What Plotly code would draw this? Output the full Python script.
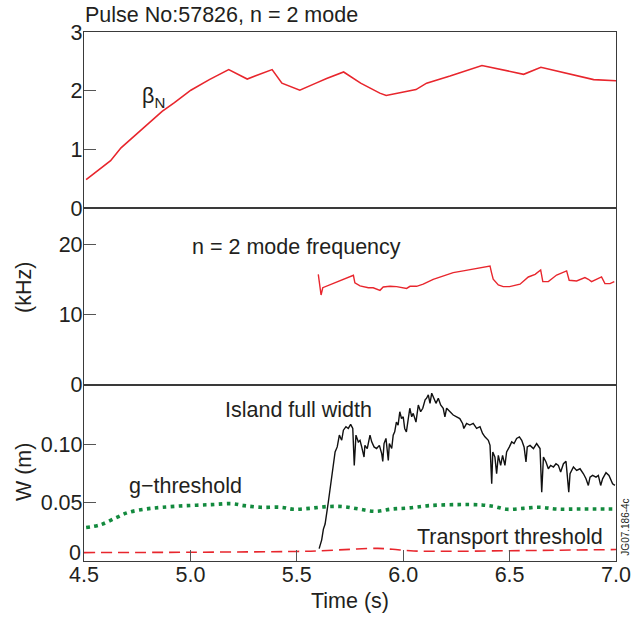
import plotly.graph_objects as go
from plotly.subplots import make_subplots

# ---- data ----
beta_t = [4.51, 4.625, 4.674, 4.76, 4.867, 4.925, 5.002, 5.089, 5.18, 5.267, 5.384, 5.43,
          5.514, 5.59, 5.64, 5.72, 5.80, 5.89, 5.92, 6.06, 6.11, 6.22, 6.37, 6.566, 6.647,
          6.895, 7.0]
beta_v = [0.49, 0.81, 1.03, 1.31, 1.65, 1.80, 2.01, 2.19, 2.36, 2.20, 2.36, 2.13,
          2.01, 2.13, 2.21, 2.32, 2.13, 1.96, 1.92, 2.02, 2.13, 2.25, 2.43, 2.28, 2.40,
          2.19, 2.17]

freq_t = [5.601, 5.614, 5.622, 5.656, 5.703, 5.766, 5.773, 5.797, 5.836, 5.859, 5.891,
          5.906, 5.938, 5.969, 6.016, 6.032, 6.063, 6.094, 6.141, 6.188, 6.235, 6.282,
          6.345, 6.408, 6.415, 6.423, 6.447, 6.47, 6.50, 6.549, 6.588, 6.62, 6.646, 6.656,
          6.682, 6.721, 6.768, 6.78, 6.815, 6.854, 6.87, 6.885, 6.932, 6.948, 6.972, 6.992]
freq_v = [15.7, 12.76, 13.8, 14.2, 14.76, 15.57, 14.5, 14.05, 13.8, 13.8, 13.43,
          13.9, 14.0, 13.95, 13.7, 14.0, 14.0, 14.3, 15.0, 15.47, 15.95, 16.2,
          16.57, 16.9, 15.95, 15.0, 14.2, 13.95, 13.95, 14.3, 15.33, 15.7, 16.33, 14.67,
          14.67, 15.6, 16.2, 14.86, 14.76, 15.24, 15.0, 14.67, 15.33, 14.38, 14.38, 14.67]

island_t = [5.605, 5.617, 5.625, 5.633, 5.648, 5.664, 5.680, 5.69, 5.70, 5.711, 5.719,
            5.731, 5.742, 5.753, 5.763, 5.77, 5.778, 5.789, 5.797, 5.805, 5.816, 5.82,
            5.831, 5.844, 5.852, 5.863, 5.875, 5.888, 5.899, 5.904, 5.91, 5.919, 5.93,
            5.935, 5.946, 5.953, 5.96, 5.968, 5.976, 5.984, 5.992, 6.0, 6.007, 6.015,
            6.023, 6.031, 6.04, 6.047, 6.06, 6.071, 6.082, 6.092, 6.103, 6.11, 6.118,
            6.126, 6.134, 6.145, 6.154, 6.165, 6.176, 6.188, 6.196, 6.204, 6.219, 6.235,
            6.251, 6.266, 6.279, 6.285, 6.298, 6.313, 6.329, 6.345, 6.361, 6.373, 6.384,
            6.4, 6.408, 6.416, 6.421, 6.431, 6.439, 6.447, 6.458, 6.467, 6.478, 6.486,
            6.499, 6.51, 6.521, 6.533, 6.546, 6.557, 6.568, 6.577, 6.583, 6.596, 6.612,
            6.627, 6.643, 6.651, 6.659, 6.671, 6.682, 6.693, 6.706, 6.718, 6.729, 6.74,
            6.753, 6.765, 6.771, 6.778, 6.784, 6.8, 6.815, 6.831, 6.847, 6.859, 6.87,
            6.878, 6.89, 6.906, 6.917, 6.928, 6.937, 6.953, 6.967, 6.976, 6.984, 6.995]
island_w = [0.0106, 0.0181, 0.0273, 0.0316, 0.0503, 0.0704, 0.0934, 0.0977, 0.1078, 0.1034, 0.112,
            0.115, 0.1135, 0.117, 0.1135, 0.0819, 0.1078, 0.102, 0.1034, 0.0977, 0.089, 0.099,
            0.0963, 0.1078, 0.102, 0.0977, 0.0963, 0.099, 0.092, 0.0853, 0.1006, 0.105, 0.0862,
            0.1006, 0.0963, 0.1078, 0.1106, 0.119, 0.1164, 0.1278, 0.122, 0.1235, 0.1135, 0.1106,
            0.1235, 0.1308, 0.1235, 0.1264, 0.119, 0.1336, 0.1278, 0.1308, 0.138, 0.1394, 0.1422,
            0.135, 0.1437, 0.1394, 0.135, 0.1394, 0.1336, 0.1308, 0.1235, 0.1308, 0.1278, 0.125,
            0.1235, 0.122, 0.1178, 0.1135, 0.1178, 0.1164, 0.1178, 0.1135, 0.115, 0.1092, 0.1063,
            0.1034, 0.099, 0.0661, 0.0934, 0.089, 0.0747, 0.0905, 0.0819, 0.0905, 0.0819, 0.0934,
            0.0977, 0.102, 0.1006, 0.105, 0.1063, 0.1034, 0.0977, 0.0848, 0.0977, 0.099, 0.0963,
            0.1006, 0.0963, 0.0589, 0.089, 0.0848, 0.079, 0.0819, 0.0805, 0.0833, 0.0819, 0.0762,
            0.0833, 0.0853, 0.0733, 0.0589, 0.0747, 0.0805, 0.0776, 0.079, 0.0747, 0.0704, 0.0647,
            0.0718, 0.0733, 0.0718, 0.0733, 0.0647, 0.0704, 0.0756, 0.0733, 0.069, 0.0661, 0.0647]

gthr_t = [4.51, 4.577, 4.654, 4.71, 4.79, 4.867, 4.98, 5.10, 5.195, 5.253, 5.33, 5.427,
          5.485, 5.56, 5.64, 5.716, 5.793, 5.87, 5.947, 6.025, 6.12, 6.257, 6.37, 6.43,
          6.488, 6.566, 6.643, 6.72, 6.836, 7.0]
gthr_w = [0.0287, 0.031, 0.0374, 0.0417, 0.0445, 0.046, 0.0474, 0.0483, 0.0491, 0.0474, 0.046, 0.046,
          0.0443, 0.0451, 0.0466, 0.0466, 0.0445, 0.0425, 0.0445, 0.0454, 0.0474, 0.0483, 0.048, 0.0466,
          0.0443, 0.0451, 0.046, 0.0445, 0.0445, 0.0445]

tthr_t = [4.5, 5.0, 5.5, 5.6, 5.75, 5.88, 5.95, 6.05, 6.2, 6.5, 7.0]
tthr_w = [0.0072, 0.0075, 0.0082, 0.0086, 0.0100, 0.0108, 0.0100, 0.0086, 0.0083, 0.0088, 0.0098]

x_ticks = [4.5, 5.0, 5.5, 6.0, 6.5, 7.0]
x_ticktext = ["4.5", "5.0", "5.5", "6.0", "6.5", "7.0"]
y1_ticks = [0, 1, 2, 3]
y2_ticks = [0, 10, 20]
y3_ticks = [0.05, 0.10]
y3_ticktext = ["0.05", "0.10"]
y3_zero_label = "0"

# ---- style ----
FONT = "Liberation Sans, Arial, sans-serif"
TXT = "#231f20"
RED = "#e8262d"
GREEN = "#138a3e"
AXC = "#3a3a3a"
FS = 21.5
TFS = 21.5

fig = make_subplots(rows=3, cols=1, shared_xaxes=True, vertical_spacing=0)

fig.add_trace(go.Scatter(x=beta_t, y=beta_v, mode="lines",
                         line=dict(color=RED, width=1.6)), row=1, col=1)
fig.add_trace(go.Scatter(x=freq_t, y=freq_v, mode="lines",
                         line=dict(color=RED, width=1.4)), row=2, col=1)
fig.add_trace(go.Scatter(x=tthr_t, y=tthr_w, mode="lines", line_shape="spline",
                         line=dict(color=RED, width=1.6, dash="11px,6px")), row=3, col=1)
fig.add_trace(go.Scatter(x=gthr_t, y=gthr_w, mode="lines", line_shape="spline",
                         line=dict(color=GREEN, width=3.6, dash="3.6px,4.4px")), row=3, col=1)
fig.add_trace(go.Scatter(x=island_t, y=island_w, mode="lines",
                         line=dict(color="#111111", width=1.4)), row=3, col=1)

common_x = dict(range=[4.5, 7.0], showline=True, mirror=True, linecolor=AXC, linewidth=1.3,
                showgrid=False, zeroline=False, automargin=False)
for r in (1, 2):
    fig.update_xaxes(common_x, showticklabels=False, ticks="", row=r, col=1)
fig.update_xaxes(common_x, tickvals=x_ticks, ticktext=x_ticktext, ticks="inside",
                 ticklen=11, tickwidth=1.2, tickcolor="#555", showticklabels=True,
                 ticklabelstandoff=-6,
                 tickfont=dict(size=TFS, color=TXT, family=FONT),
                 row=3, col=1)

common_y = dict(showline=True, mirror=True, linecolor=AXC, linewidth=1.3, showgrid=False,
                zeroline=False, ticks="inside", ticklen=12, tickwidth=1.2, tickcolor="#555",
                ticklabelstandoff=-4,
                tickfont=dict(size=TFS, color=TXT, family=FONT), automargin=False)
fig.update_yaxes(common_y, range=[0, 3], tickvals=y1_ticks, row=1, col=1)
fig.update_yaxes(common_y, range=[0, 25.1], tickvals=y2_ticks, row=2, col=1)
fig.update_yaxes(common_y, range=[0, 0.151], tickvals=y3_ticks, ticktext=y3_ticktext,
                 row=3, col=1)

ann_font = dict(size=FS, color=TXT, family=FONT)
# axis titles
fig.add_annotation(x=0.5, y=-0.076, xref="paper", yref="paper", xanchor="center", yanchor="middle",
                   text="Time (s)", showarrow=False, font=ann_font)
fig.add_annotation(x=-0.1128, y=0.518, xref="paper", yref="paper", xanchor="center",
                   yanchor="middle", textangle=-90, text="(kHz)", showarrow=False, font=ann_font)
fig.add_annotation(x=-0.1128, y=0.170, xref="paper", yref="paper", xanchor="center",
                   yanchor="middle", textangle=-90, text="W (m)", showarrow=False, font=ann_font)
# labels
fig.add_annotation(x=0, y=1.0, xref="paper", yref="paper", xanchor="left", yanchor="bottom",
                   xshift=-1, yshift=3, text="Pulse No:57826, n = 2 mode", showarrow=False,
                   font=ann_font)
fig.add_annotation(x=4.762, y=1.88, xref="x", yref="y", xanchor="left", yanchor="middle",
                   text="β<sub>N</sub>", showarrow=False, font=ann_font)
fig.add_annotation(x=5.0, y=19.6, xref="x2", yref="y2", xanchor="left", yanchor="middle",
                   text="n = 2 mode frequency", showarrow=False, font=ann_font)
fig.add_annotation(x=5.153, y=0.129, xref="x3", yref="y3", xanchor="left", yanchor="middle",
                   text="Island full width", showarrow=False, font=ann_font)
fig.add_annotation(x=4.70, y=0.0638, xref="x3", yref="y3", xanchor="left", yanchor="middle",
                   text="g−threshold", showarrow=False, font=ann_font)
fig.add_annotation(x=6.056, y=0.0207, xref="x3", yref="y3", xanchor="left", yanchor="middle",
                   text="Transport threshold", showarrow=False, font=ann_font)
fig.add_annotation(x=4.5, y=0, xref="x3", yref="y3", xanchor="right", yanchor="middle",
                   xshift=-1, yshift=8, text=y3_zero_label, showarrow=False,
                   font=dict(size=TFS, color=TXT, family=FONT))
fig.add_annotation(x=1.0, y=0.064, xref="paper", yref="paper", xanchor="left", yanchor="middle",
                   xshift=2, textangle=-90, text="JG07.186-4c", showarrow=False,
                   font=dict(size=10, color=TXT, family=FONT))

fig.update_layout(width=639, height=617, margin=dict(l=84, r=23, t=32, b=56, autoexpand=False),
                  paper_bgcolor="white", plot_bgcolor="white", showlegend=False,
                  font=dict(family=FONT, color=TXT))

# remove the default 8px page margin so the figure fills the window exactly
fig.write_html("out.html", config={"displayModeBar": False},
               post_script="document.body.style.margin='0px';")
